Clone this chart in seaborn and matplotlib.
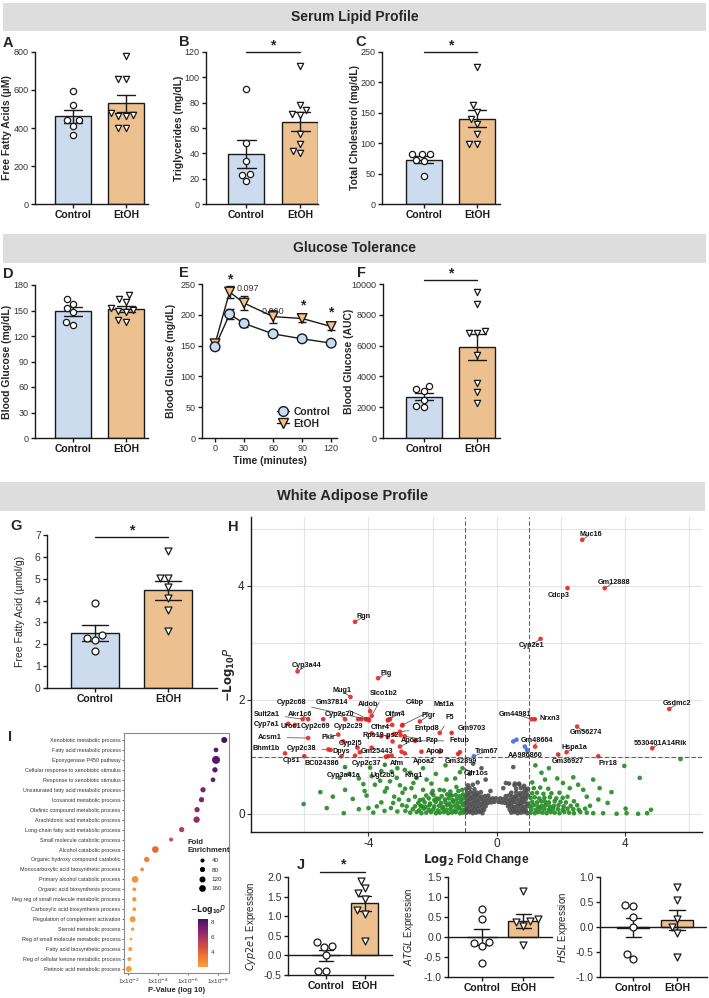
import numpy as np
import pandas as pd
import matplotlib
matplotlib.use("Agg")
import matplotlib.pyplot as plt
import matplotlib.cm as cm
from matplotlib.colors import LinearSegmentedColormap, Normalize
from matplotlib.lines import Line2D
from matplotlib.patches import Rectangle
import seaborn as sns

sns.set_theme(style="ticks")
plt.rcParams['font.family'] = ['Liberation Sans', 'DejaVu Sans']
plt.rcParams['axes.unicode_minus'] = False

CTRL_C = '#c6dcf4'
ETOH_C = '#fcc17f'
INK = '#1a1a1a'

# ---------------- data ----------------
groups = ['Control', 'EtOH']

# A-D, F, G: individual animals
ffa_ctrl = [595, 522, 440, 440, 412, 365]
ffa_etoh = [777, 659, 659, 480, 470, 461, 461, 398, 398]
tg_ctrl = [91, 48, 34, 24, 23, 18]
tg_etoh = [109, 78, 74, 71, 70, 55, 47, 42, 40]
chol_ctrl = [83, 82, 82, 72, 70, 46]
chol_etoh = [225, 163, 152, 140, 132, 115, 99, 98]
glu_ctrl = [164, 158, 153, 148, 137, 133]
glu_etoh = [168, 164, 160, 153, 151, 150, 148, 139, 136]
auc_ctrl = [3400, 3150, 3050, 2500, 2050, 2000]
auc_etoh = [9460, 8700, 6980, 6850, 6850, 5380, 3560, 2980, 2270]
wat_ffa_ctrl = [3.9, 2.42, 2.29, 2.19, 1.70]
wat_ffa_etoh = [6.28, 5.02, 5.02, 4.63, 4.14, 3.56, 2.61]

# E: glucose tolerance (mean, SEM)
gtt_time = [0, 15, 30, 60, 90, 120]
gtt_ctrl_mean = [148, 201, 186, 169, 161, 154]
gtt_ctrl_sem = [4, 8, 5, 4, 3, 3]
gtt_etoh_mean = [153, 237, 219, 197, 194, 181]
gtt_etoh_sem = [4, 9, 11, 10, 6, 6]

# J: qPCR
cyp_ctrl = [0.35, 0.24, 0.21, 0.01, -0.39, -0.41]
cyp_etoh = [1.91, 1.72, 1.59, 1.45, 1.17, 1.05, 0.38]
atgl_ctrl = [0.70, 0.45, -0.13, -0.15, -0.22, -0.65]
atgl_etoh = [1.14, 0.45, 0.41, 0.37, 0.27, -0.20]
hsl_ctrl = [0.45, 0.43, 0.21, 0.01, -0.53, -0.64]
hsl_etoh = [0.81, 0.55, 0.16, 0.01, -0.12, -0.60]

# H: volcano, labelled genes (point, label position)
lab_genes = ['Muc16', 'Gm12888', 'Cdcp3', 'Rgn', 'Cyp2e1', 'Cyp3a44', 'Plg', 'Mug1', 'Slco1b2',
             'Cyp2c68', 'Gm37814', 'Aldob', 'C4bp', 'Mat1a', 'Sult2a1', 'Akr1c6', 'Cyp2c70', 'Olfm4',
             'Pigr', 'F5', 'Cyp7a1', 'Uroc1', 'Cyp2c69', 'Cyp2c29', 'Cfhr4', 'Entpd8', 'Gm9703',
             'Acsm1', 'Pklr', 'Cyp2j5', 'Rps19-ps2', 'Apoa1', 'Pzp', 'Fetub', 'Bhmt1b', 'Cyp2c38',
             'Dpys', 'Gm25443', 'Apob', 'Trim67', 'Cps1', 'BC024386', 'Cyp2c37', 'Afm', 'Apoa2',
             'Gm32899', 'Cyp3a41a', 'Ugt2b5', 'Kng1', 'Cdr1os', 'Gsdmc2', '5530401A14Rik', 'Nrxn3',
             'Gm44981', 'Gm56274', 'Gm48664', 'AA986860', 'Hspa1a', 'Gm36927', 'Prr18']
lab_lfc = [2.66, 3.36, 2.20, -4.42, 1.36, -6.21, -3.70, -4.56, -3.90,
           -4.08, -4.00, -3.95, -3.33, -2.94, -6.05, -5.88, -4.73, -3.40,
           -2.40, -1.78, -6.50, -6.29, -5.41, -4.32, -3.26, -3.02, -1.41,
           -5.88, -4.94, -4.79, -3.90, -3.02, -2.87, -2.55, -6.60, -5.25,
           -4.34, -3.90, -2.35, -0.72, -6.00, -4.84, -4.42, -3.39, -2.87,
           -1.21, -4.73, -3.49, -2.87, -1.07, 5.37, 4.84, 1.18,
           1.08, 2.50, 1.19, 0.94, 2.17, 1.91, 3.16]
lab_nlp = [4.81, 3.96, 3.96, 3.37, 3.07, 2.50, 2.38, 2.05, 1.72,
           1.66, 1.66, 1.80, 1.66, 1.56, 1.66, 1.66, 1.66, 1.64,
           1.62, 1.42, 1.58, 1.56, 1.66, 1.66, 1.56, 1.44, 1.42,
           1.33, 1.39, 1.27, 1.41, 1.18, 1.36, 1.28, 1.06, 1.13,
           1.16, 1.16, 1.09, 1.01, 1.01, 1.01, 1.02, 1.01, 1.06,
           1.05, 0.82, 0.86, 0.77, 0.80, 1.84, 1.15, 1.66,
           1.66, 1.53, 1.18, 1.12, 1.08, 1.04, 1.01]
lab_tx = [2.92, 3.64, 1.91, -4.16, 1.08, -5.93, -3.44, -4.84, -3.52,
          -6.40, -5.13, -4.01, -2.55, -1.65, -7.17, -6.13, -4.91, -3.18,
          -2.14, -1.46, -7.17, -6.43, -5.65, -4.63, -3.63, -2.19, -0.79,
          -7.07, -5.25, -4.55, -3.62, -2.65, -2.04, -1.18, -7.19, -6.08,
          -4.85, -3.75, -1.93, -0.32, -6.41, -5.46, -4.06, -3.13, -2.28,
          -1.13, -4.79, -3.54, -2.60, -0.63, 5.62, 5.08, 1.65,
          0.56, 2.76, 1.24, 0.87, 2.41, 2.22, 3.45]
lab_ty = [4.91, 4.06, 3.84, 3.46, 2.96, 2.60, 2.47, 2.16, 2.11,
          1.95, 1.95, 1.91, 1.95, 1.92, 1.75, 1.75, 1.75, 1.75,
          1.72, 1.69, 1.56, 1.53, 1.53, 1.53, 1.52, 1.50, 1.49,
          1.34, 1.34, 1.24, 1.37, 1.28, 1.28, 1.28, 1.14, 1.14,
          1.10, 1.09, 1.09, 1.10, 0.94, 0.88, 0.88, 0.88, 0.91,
          0.91, 0.68, 0.68, 0.68, 0.71, 1.93, 1.24, 1.68,
          1.75, 1.42, 1.28, 1.03, 1.16, 0.91, 0.88]

# H: other genes (log2 fold change, -log10 P)
other_sig_pts = [(-4.06, 1.66), (-3.98, 1.64), (-4.22, 1.66), (-3.38, 1.65), (-2.95, 1.55),
                 (-3.20, 1.40), (-3.00, 1.38), (-3.60, 1.36), (-3.40, 1.35), (-3.25, 1.27),
                 (-1.78, 1.09), (-1.15, 1.08), (-3.46, 1.00), (-5.18, 1.12), (-4.27, 1.08),
                 (-3.28, 1.02), (-2.97, 1.09), (0.51, 1.27), (0.61, 1.30), (0.87, 1.18)]
green_left_pts = [
    (-6.02, 0.17), (-5.11, 0.30), (-4.77, 0.01), (-4.73, 0.42), (-4.49, 0.26), (-4.16, 0.52),
    (-4.12, 0.40), (-4.06, 0.32), (-3.95, 0.81), (-3.80, 0.51), (-3.74, 0.13), (-3.64, 0.58),
    (-3.49, 0.39), (-3.43, 0.45), (-3.33, 0.57), (-3.28, 0.74), (-3.23, 0.19), (-3.12, 0.63),
    (-3.05, 0.25), (-3.02, 0.50), (-2.94, 0.37), (-2.86, 0.44), (-2.81, 0.13), (-2.66, 0.45),
    (-2.60, 0.54), (-2.55, 0.30), (-2.50, 0.63), (-2.40, 0.24), (-2.34, 0.13), (-2.30, 0.42),
    (-2.19, 0.60), (-2.04, 0.53), (-2.03, 0.36), (-1.88, 0.27), (-1.78, 0.42), (-1.57, 0.60),
    (-1.46, 0.33), (-1.26, 0.47), (-1.15, 0.73), (-4.90, 0.63), (-4.60, 0.70), (-4.30, 0.62),
    (-3.90, 0.66), (-3.60, 0.75), (-3.10, 0.80), (-2.70, 0.72), (-2.30, 0.80), (-1.90, 0.70),
    (-1.60, 0.85), (-1.30, 0.62), (-5.50, 0.38), (-5.30, 0.10), (-3.50, 0.05), (-3.30, 0.10),
    (-3.10, 0.04), (-2.95, 0.15), (-3.60, 0.20), (-3.20, 0.30), (-2.85, 0.05), (-4.00, 0.10),
    (-3.85, 0.02), (-4.30, 0.08), (-2.75, 0.24),
    (-2.70, 0.02), (-2.50, 0.03), (-2.35, 0.01), (-2.20, 0.02), (-2.05, 0.03), (-1.90, 0.01),
    (-1.78, 0.02), (-1.65, 0.03), (-1.52, 0.01), (-1.40, 0.02), (-1.28, 0.03), (-1.15, 0.01),
    (-1.05, 0.02), (-2.62, 0.08), (-2.42, 0.06), (-2.28, 0.09), (-2.12, 0.07), (-1.98, 0.08),
    (-1.84, 0.06), (-1.70, 0.09), (-1.58, 0.07), (-1.45, 0.08), (-1.32, 0.06), (-1.20, 0.09),
    (-1.08, 0.07), (-2.55, 0.13), (-2.38, 0.14), (-2.22, 0.12), (-2.10, 0.15), (-1.95, 0.13),
    (-1.80, 0.14), (-1.68, 0.12), (-1.55, 0.15), (-1.42, 0.13), (-1.30, 0.14), (-1.18, 0.12),
    (-1.06, 0.15), (-2.45, 0.19), (-2.25, 0.20), (-2.08, 0.18), (-1.90, 0.21), (-1.74, 0.19),
    (-1.60, 0.20), (-1.48, 0.18), (-1.35, 0.21), (-1.22, 0.19), (-1.10, 0.20), (-2.30, 0.25),
    (-2.12, 0.27), (-1.95, 0.24), (-1.80, 0.26), (-1.62, 0.25), (-1.50, 0.27), (-1.38, 0.24),
    (-1.25, 0.26), (-1.12, 0.25), (-1.03, 0.27), (-2.20, 0.32), (-1.98, 0.33), (-1.72, 0.31),
    (-1.55, 0.34), (-1.40, 0.32), (-1.28, 0.33), (-1.15, 0.31), (-1.05, 0.34), (-2.00, 0.40),
    (-1.65, 0.41), (-1.45, 0.39), (-1.20, 0.40), (-1.08, 0.42)]
green_right_pts = [
    (1.62, 0.80), (1.39, 0.72), (1.88, 0.62), (2.38, 0.64), (3.00, 0.60), (3.97, 0.84),
    (4.45, 0.63), (5.72, 0.96), (3.57, 0.38), (3.16, 0.25), (3.45, 0.19), (3.73, 0.00),
    (4.04, 0.01), (4.40, 0.00), (4.68, 0.01), (4.80, 0.07), (4.01, 0.09), (2.90, 0.14),
    (3.31, 0.01), (2.69, 0.42), (2.53, 0.51), (2.27, 0.45), (2.06, 0.54), (1.20, 0.85),
    (1.50, 0.60), (2.20, 0.30), (2.80, 0.30), (3.20, 0.45), (1.10, 0.55),
    (1.05, 0.02), (1.18, 0.01), (1.30, 0.03), (1.42, 0.02), (1.55, 0.01), (1.68, 0.03),
    (1.80, 0.02), (1.95, 0.01), (2.10, 0.03), (2.25, 0.02), (2.40, 0.01), (2.60, 0.03),
    (2.80, 0.02), (3.00, 0.01), (1.08, 0.08), (1.22, 0.07), (1.35, 0.09), (1.48, 0.08),
    (1.62, 0.07), (1.75, 0.09), (1.90, 0.08), (2.05, 0.07), (2.20, 0.09), (2.38, 0.08),
    (2.55, 0.07), (2.75, 0.09), (1.03, 0.14), (1.15, 0.15), (1.28, 0.13), (1.40, 0.14),
    (1.52, 0.15), (1.65, 0.13), (1.78, 0.14), (1.92, 0.15), (2.08, 0.13), (2.30, 0.14),
    (2.50, 0.15), (1.10, 0.21), (1.25, 0.20), (1.38, 0.22), (1.50, 0.21), (1.62, 0.20),
    (1.80, 0.22), (1.98, 0.21), (2.15, 0.20), (2.40, 0.22), (1.05, 0.28), (1.18, 0.29),
    (1.32, 0.27), (1.48, 0.28), (1.65, 0.29), (1.85, 0.27), (2.05, 0.28), (1.10, 0.36),
    (1.25, 0.37), (1.45, 0.35), (1.70, 0.36), (1.95, 0.37), (1.15, 0.45), (1.35, 0.46),
    (1.60, 0.44)]
grey_pts = [
    (-0.95, 0.02), (-0.85, 0.03), (-0.75, 0.01), (-0.65, 0.02), (-0.55, 0.03), (-0.45, 0.01),
    (0.45, 0.02), (0.55, 0.03), (0.65, 0.01), (0.75, 0.02), (0.85, 0.03), (0.95, 0.01),
    (-0.98, 0.07), (-0.90, 0.08), (-0.80, 0.06), (-0.70, 0.07), (-0.60, 0.08), (-0.50, 0.06),
    (-0.40, 0.07), (0.40, 0.07), (0.50, 0.08), (0.60, 0.06), (0.70, 0.07), (0.80, 0.08),
    (0.90, 0.06), (-0.95, 0.13), (-0.85, 0.14), (-0.75, 0.12), (-0.65, 0.13), (-0.55, 0.14),
    (-0.45, 0.12), (-0.35, 0.13), (0.35, 0.13), (0.45, 0.14), (0.55, 0.12), (0.65, 0.13),
    (0.75, 0.14), (0.85, 0.12), (0.95, 0.13), (-0.98, 0.19), (-0.88, 0.20), (-0.78, 0.18),
    (-0.68, 0.19), (-0.58, 0.20), (-0.48, 0.18), (-0.38, 0.19), (-0.28, 0.19), (-0.18, 0.20),
    (-0.08, 0.21), (0.05, 0.21), (0.15, 0.20), (0.25, 0.19), (0.35, 0.18), (0.45, 0.19),
    (0.55, 0.20), (0.65, 0.18), (0.75, 0.19), (0.85, 0.20), (0.95, 0.18), (-0.93, 0.25),
    (-0.83, 0.26), (-0.73, 0.24), (-0.63, 0.25), (-0.53, 0.26), (-0.43, 0.24), (-0.33, 0.25),
    (-0.23, 0.26), (-0.13, 0.27), (-0.03, 0.27), (0.10, 0.27), (0.20, 0.26), (0.30, 0.25),
    (0.40, 0.24), (0.50, 0.25), (0.60, 0.26), (0.70, 0.24), (0.80, 0.25), (0.90, 0.26),
    (-0.97, 0.31), (-0.87, 0.32), (-0.77, 0.30), (-0.67, 0.31), (-0.57, 0.32), (-0.47, 0.30),
    (-0.37, 0.31), (-0.27, 0.32), (0.28, 0.31), (0.38, 0.32), (0.48, 0.30), (0.58, 0.31),
    (0.68, 0.32), (0.78, 0.30), (0.88, 0.31), (0.97, 0.32), (-0.92, 0.37), (-0.82, 0.38),
    (-0.72, 0.36), (-0.62, 0.37), (-0.50, 0.38), (0.45, 0.37), (0.60, 0.38), (0.72, 0.36),
    (0.82, 0.37), (0.92, 0.38), (-0.95, 0.44), (-0.85, 0.45), (-0.70, 0.43), (0.60, 0.44),
    (0.75, 0.45), (0.88, 0.43), (0.97, 0.44), (-0.90, 0.50), (-0.75, 0.51), (0.55, 0.50),
    (0.70, 0.51), (0.85, 0.49), (-0.48, 0.80), (-0.60, 0.55), (-0.35, 0.60), (0.28, 0.54),
    (0.56, 0.53), (0.51, 0.82), (0.38, 0.53), (0.69, 0.53), (-0.74, 0.88), (-0.85, 0.70),
    (0.20, 0.45), (-0.20, 0.40)]

# I: GO enrichment
go_terms = ['Xenobiotic metabolic process', 'Fatty acid metabolic process',
            'Epoxygenase P450 pathway', 'Cellular response to xenobiotic stimulus',
            'Response to xenobiotic stimulus', 'Unsaturated fatty acid metabolic process',
            'Icosanoid metabolic process', 'Olefinic compound metabolic process',
            'Arachidonic acid metabolic process', 'Long-chain fatty acid metabolic process',
            'Small molecule catabolic process', 'Alcohol catabolic process',
            'Organic hydroxy compound catabolic', 'Monocarboxylic acid biosynthetic process',
            'Primary alcohol catabolic process', 'Organic acid biosynthesis process',
            'Neg reg of small molecule metabolic process', 'Carboxylic acid biosynthesis process',
            'Regulation of complement activation', 'Steroid metabolic process',
            'Reg of small molecule metabolic process', 'Fatty acid biosynthetic process',
            'Reg of cellular ketone metabolic process', 'Retinoic acid metabolic process']
go_logp = [8.42, 7.87, 7.87, 7.80, 7.67, 7.00, 6.90, 6.60, 6.57, 5.57, 4.86, 3.81,
           3.23, 2.92, 2.45, 2.40, 2.40, 2.40, 2.29, 2.29, 2.18, 2.13, 2.07, 2.03]
go_fold = [205, 125, 365, 160, 125, 160, 160, 160, 226, 160, 91, 255,
           160, 78, 255, 78, 107, 78, 205, 64, 41, 91, 91, 205]
fold_legend = [40, 80, 120, 160]

# ---------------- figure ----------------
W, H = 709, 998
fig = plt.figure(figsize=(W / 100, H / 100), dpi=100)


def px_axes(l, t, r, b):
    return fig.add_axes([l / W, 1 - b / H, (r - l) / W, (b - t) / H])


def header(l, t, r, b, text, size):
    fig.add_artist(Rectangle((l / W, 1 - b / H), (r - l) / W, (b - t) / H,
                             transform=fig.transFigure, color='#dddddd', lw=0))
    fig.text((l + r) / 2 / W, 1 - (t + b) / 2 / H, text, ha='center', va='center',
             fontsize=size, fontweight='bold')


def letter(x, y, s):
    fig.text(x / W, 1 - y / H, s, ha='center', va='center', fontsize=10.5, fontweight='bold')


header(3, 3, 706, 31, 'Serum Lipid Profile', 10)
header(3, 234, 706, 263, 'Glucose Tolerance', 10)
header(0, 482, 705, 511, 'White Adipose Profile', 10.5)


def style_prism(ax, ylabel, ylab_x, ylab_bold=True, ylab_size=7.5, tick_size=6.5):
    ax.set_xlabel('')
    ax.set_ylabel(ylabel, fontsize=ylab_size, fontweight='bold' if ylab_bold else 'normal')
    ax.yaxis.set_label_coords(ylab_x, 0.5)
    sns.despine(ax=ax)
    for sp in ['left', 'bottom']:
        ax.spines[sp].set_linewidth(1.0)
        ax.spines[sp].set_color(INK)
    ax.tick_params(length=3, width=1.0, color=INK, pad=1.5)
    for t in ax.get_yticklabels():
        t.set_fontsize(tick_size)
        t.set_color('#333333')


def bar_panel(ax, ctrl, etoh, xlim, ylim, yticks, ylabel, ylab_x, width=0.67, msize=4.5,
              ylab_bold=True, ylab_size=7.5, tick_size=6.5, zero_line=False):
    df = pd.DataFrame({'group': ['Control'] * len(ctrl) + ['EtOH'] * len(etoh),
                       'value': list(ctrl) + list(etoh)})
    sns.barplot(data=df, x='group', y='value', hue='group', order=groups, hue_order=groups,
                palette=[CTRL_C, ETOH_C], errorbar='se', capsize=0.35, width=width,
                edgecolor=INK, linewidth=1.0, err_kws={'color': INK, 'linewidth': 1.0},
                legend=False, ax=ax)
    for grp, mk in zip(groups, ['o', 'v']):
        sub = df[df['group'] == grp]
        sns.swarmplot(data=sub, x='group', y='value', order=groups, marker=mk, size=msize,
                      color='white', edgecolor=INK, linewidth=0.9, ax=ax, zorder=4)
    if zero_line:
        ax.axhline(0, color=INK, lw=1.0, zorder=3)
    ax.set_xlim(xlim)
    ax.set_ylim(ylim)
    ax.set_yticks(yticks)
    style_prism(ax, ylabel, ylab_x, ylab_bold, ylab_size, tick_size)
    for t in ax.get_xticklabels():
        t.set_fontsize(7.5)
        t.set_fontweight('bold')
        t.set_color(INK)


def sig_bar(ax, y, x0=0, x1=1, star_size=10):
    ax.plot([x0, x1], [y, y], color=INK, lw=1.0, clip_on=False)
    ax.text((x0 + x1) / 2, y, '*', ha='center', va='bottom', fontsize=star_size,
            fontweight='bold', clip_on=False)


# A
axA = px_axes(35, 52, 148, 204)
bar_panel(axA, ffa_ctrl, ffa_etoh, (-0.72, 1.42), (0, 800), [0, 200, 400, 600, 800],
          'Free Fatty Acids (µM)', -0.2)
letter(8, 43, 'A')
# B
axB = px_axes(206, 52, 318, 204)
bar_panel(axB, tg_ctrl, tg_etoh, (-0.74, 1.33), (0, 120), np.arange(0, 121, 20),
          'Triglycerides (mg/dL)', -0.2)
sig_bar(axB, 120)
letter(184, 42, 'B')
# C
axC = px_axes(382, 52, 500, 204)
bar_panel(axC, chol_ctrl, chol_etoh, (-0.78, 1.43), (0, 250), np.arange(0, 251, 50),
          'Total Cholesterol (mg/dL)', -0.19)
sig_bar(axC, 250)
letter(361, 42, 'C')
# D
axD = px_axes(35, 285, 148, 438)
bar_panel(axD, glu_ctrl, glu_etoh, (-0.72, 1.42), (0, 180), np.arange(0, 181, 30),
          'Blood Glucose (mg/dL)', -0.2)
letter(8, 274, 'D')
# F
axF = px_axes(383, 284, 500, 438)
bar_panel(axF, auc_ctrl, auc_etoh, (-0.77, 1.43), (0, 10000), np.arange(0, 10001, 2000),
          'Blood Glucose (AUC)', -0.25)
sig_bar(axF, 10260)
letter(361, 273, 'F')

# E: glucose tolerance curve
axE = px_axes(202, 284, 337, 438)
df_e = pd.DataFrame({'time': gtt_time * 2,
                     'glucose': gtt_etoh_mean + gtt_ctrl_mean,
                     'err': gtt_etoh_sem + gtt_ctrl_sem,
                     'group': ['EtOH'] * 6 + ['Control'] * 6})
sns.lineplot(data=df_e, x='time', y='glucose', hue='group',
             palette={'Control': INK, 'EtOH': INK}, lw=1.0, legend=False, ax=axE)
for grp in ['EtOH', 'Control']:
    sub = df_e[df_e['group'] == grp]
    axE.errorbar(sub['time'], sub['glucose'], yerr=sub['err'], fmt='none', ecolor=INK,
                 elinewidth=1.0, capsize=3, capthick=1.0, zorder=3)
sns.scatterplot(data=df_e, x='time', y='glucose', hue='group', style='group',
                markers={'Control': 'o', 'EtOH': 'v'},
                palette={'Control': CTRL_C, 'EtOH': ETOH_C}, s=48,
                edgecolor=INK, linewidth=1.0, legend=False, ax=axE, zorder=4)
axE.set_xlim(-13.5, 126)
axE.set_ylim(0, 250)
axE.set_xticks([0, 30, 60, 90, 120])
axE.set_yticks(np.arange(0, 251, 50))
style_prism(axE, 'Blood Glucose (mg/dL)', -0.19)
axE.set_xlabel('Time (minutes)', fontsize=7.5, fontweight='bold', labelpad=2)
for t in axE.get_xticklabels():
    t.set_fontsize(6.5)
    t.set_color('#333333')
axE.text(15, 246, '*', ha='center', va='bottom', fontsize=10, fontweight='bold')
axE.text(34, 243, '0.097', ha='center', va='center', fontsize=6.5, color='#333333')
axE.text(60, 206, '0.060', ha='center', va='center', fontsize=6.5, color='#333333')
axE.text(90.5, 203, '*', ha='center', va='bottom', fontsize=10, fontweight='bold')
axE.text(120, 192, '*', ha='center', va='bottom', fontsize=10, fontweight='bold')
leg_handles = [Line2D([0], [0], color=INK, lw=1.0, marker='o', mfc=CTRL_C, mec=INK, ms=7),
               Line2D([0], [0], color=INK, lw=1.0, marker='v', mfc=ETOH_C, mec=INK, ms=7)]
axE.legend(leg_handles, groups, loc='lower right', bbox_to_anchor=(1.02, 0.0),
           frameon=False, handlelength=1.2, handletextpad=0.4, labelspacing=0.15,
           prop={'weight': 'bold', 'size': 7.5})
letter(184, 273, 'E')

# G
axG = px_axes(47, 535, 217, 688)
bar_panel(axG, wat_ffa_ctrl, wat_ffa_etoh, (-0.66, 1.67), (0, 7), np.arange(0, 8, 1),
          'Free Fatty Acid (µmol/g)', -0.13, width=0.66, msize=5, ylab_bold=False,
          ylab_size=7.5, tick_size=7.5)
sig_bar(axG, 6.9)
letter(16, 526, 'G')

# J
axJ1 = px_axes(288, 877, 393, 975)
bar_panel(axJ1, cyp_ctrl, cyp_etoh, (-0.99, 1.74), (-0.5, 2.0), np.arange(-0.5, 2.01, 0.5),
          r'$\it{Cyp2e1}$ Expression', -0.29, width=0.72, msize=5, ylab_bold=False,
          ylab_size=7, tick_size=7.5, zero_line=True)
sig_bar(axJ1, 2.14, -0.15, 1.0)
axJ2 = px_axes(448, 877, 553, 977)
bar_panel(axJ2, atgl_ctrl, atgl_etoh, (-0.81, 1.71), (-1.0, 1.5), np.arange(-1.0, 1.51, 0.5),
          r'$\it{ATGL}$ Expression', -0.3, width=0.72, msize=5, ylab_bold=False,
          ylab_size=7, tick_size=7.5, zero_line=True)
axJ3 = px_axes(600, 877, 707, 977)
bar_panel(axJ3, hsl_ctrl, hsl_etoh, (-0.76, 1.69), (-1.0, 1.0), np.arange(-1.0, 1.01, 0.5),
          r'$\it{HSL}$ Expression', -0.28, width=0.72, msize=5, ylab_bold=False,
          ylab_size=7, tick_size=7.5, zero_line=True)
letter(301, 865, 'J')

# H: volcano
axH = px_axes(251, 517, 702, 832)
vol = pd.DataFrame(green_left_pts + green_right_pts + grey_pts + other_sig_pts
                   + list(zip(lab_lfc, lab_nlp)), columns=['lfc', 'nlp'])
fc_ok = vol['lfc'].abs() >= 1
p_ok = vol['nlp'] >= 1
vol['cat'] = np.select([fc_ok & p_ok, p_ok, fc_ok], ['both', 'p', 'fc'], 'ns')
vol['order'] = vol['cat'].map({'ns': 0, 'fc': 1, 'p': 2, 'both': 3})
vol = vol.sort_values('order', kind='stable')
sns.scatterplot(data=vol, x='lfc', y='nlp', hue='cat',
                palette={'ns': '#4d4d4d', 'fc': '#228b22', 'p': '#4169e1', 'both': '#e8221b'},
                s=11, linewidth=0, alpha=0.9, legend=False, ax=axH, zorder=3)
for g, px_, py_, tx_, ty_ in zip(lab_genes, lab_lfc, lab_nlp, lab_tx, lab_ty):
    axH.annotate(g, xy=(px_, py_), xytext=(tx_, ty_), ha='center', va='center',
                 fontsize=5.2, fontweight='bold', color='#111111', zorder=5,
                 arrowprops=dict(arrowstyle='-', lw=0.5, color='#444444',
                                 shrinkA=1.5, shrinkB=1.5))
for xv in (-1, 1):
    axH.axvline(xv, color='#666666', lw=0.8, ls=(0, (4, 2)), zorder=2)
axH.axhline(1, color='#666666', lw=0.8, ls=(0, (4, 2)), zorder=2)
axH.set_xlim(-7.66, 6.39)
axH.set_ylim(-0.32, 5.21)
axH.set_xticks([-4, 0, 4])
axH.set_xticks([-6, -2, 2, 6], minor=True)
axH.set_yticks([0, 2, 4])
axH.set_yticks([1, 3, 5], minor=True)
axH.grid(which='both', color='#e4e4e4', lw=0.8)
axH.set_axisbelow(True)
axH.tick_params(which='major', length=3, width=0.8, color='#333333', labelsize=8.5, pad=1.5)
axH.tick_params(which='minor', length=0)
sns.despine(ax=axH)
for sp in ['left', 'bottom']:
    axH.spines[sp].set_linewidth(1.0)
    axH.spines[sp].set_color(INK)
axH.set_xlabel(r'$\mathbf{Log_2}$ Fold Change', fontsize=8.5, fontweight='bold', labelpad=1)
axH.set_ylabel(r'$\mathbf{-Log_{10}}\it{P}$', fontsize=8.5, fontweight='bold', labelpad=1)
letter(233, 527, 'H')

# I: GO dot plot
go_cmap = LinearSegmentedColormap.from_list(
    'go', ['#f7a13a', '#ee7b36', '#d5533f', '#ad3660', '#7b1f70', '#451068'])
go_norm = Normalize(2.0, 8.4)
axI = px_axes(124, 733, 229, 973)
df_i = pd.DataFrame({'term': go_terms, 'logp': go_logp, 'fold': go_fold})
sns.scatterplot(data=df_i, x='logp', y='term', hue='logp', palette=go_cmap, hue_norm=go_norm,
                size='fold', sizes=(0, 36.4), size_norm=(0, 400), linewidth=0,
                legend=False, ax=axI, zorder=3)
axI.set_ylim(23.4, -0.7)
axI.set_xlim(1.71, 8.74)
axI.set_xticks([2, 4, 6, 8])
axI.set_xticklabels([r'1x10$^{-2}$', r'1x10$^{-4}$', r'1x10$^{-6}$', r'1x10$^{-8}$'])
axI.set_ylabel('')
axI.set_xlabel('P-Value (log 10)', fontsize=5.5, fontweight='bold', labelpad=1)
axI.tick_params(axis='y', labelsize=3.9, length=1.5, width=0.5, pad=1, colors='#333333')
axI.tick_params(axis='x', labelsize=4.5, length=1.5, width=0.5, pad=1, colors='#333333')
axI.grid(False)
for sp in axI.spines.values():
    sp.set_visible(True)
    sp.set_color('#8a8a8a')
    sp.set_linewidth(0.8)
size_handles = [Line2D([], [], ls='', marker='o', color='black', ms=np.sqrt(0.091 * v))
                for v in fold_legend]
legI = axI.legend(size_handles, [str(v) for v in fold_legend], title='Fold\nEnrichment',
                  loc='upper center', bbox_to_anchor=(209 / W, 1 - 835 / H),
                  bbox_transform=fig.transFigure, frameon=False, fontsize=4.5,
                  title_fontsize=5.5, handletextpad=0.6, labelspacing=0.6, borderpad=0.2)
legI.get_title().set_fontweight('bold')
cax = px_axes(198, 919, 208, 967)
cb = fig.colorbar(cm.ScalarMappable(norm=go_norm, cmap=go_cmap), cax=cax, ticks=[4, 6, 8])
cb.outline.set_visible(False)
cax.tick_params(labelsize=4.5, length=0, pad=2, colors='#333333')
fig.text(208 / W, 1 - 910 / H, r'$\mathbf{-Log_{10}}\it{P}$', ha='center', va='center', fontsize=5.5)
letter(10, 737, 'I')

fig.savefig('out.png', dpi=100)
